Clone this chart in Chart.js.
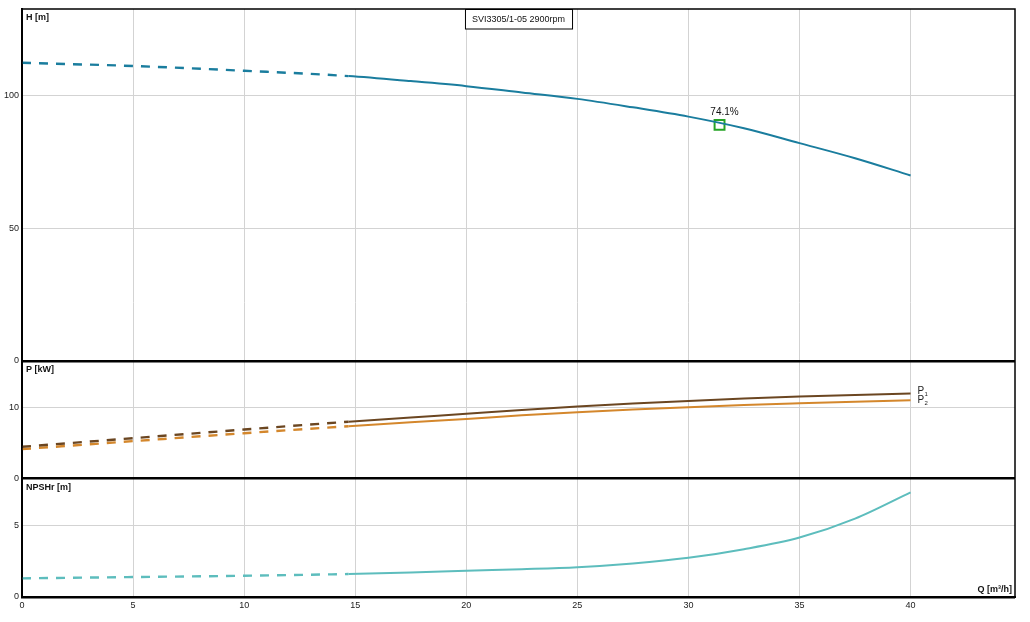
<!DOCTYPE html>
<html><head><meta charset="utf-8">
<script src="https://cdn.jsdelivr.net/npm/chart.js@4.4.1/dist/chart.umd.min.js"></script>
<style>html,body{margin:0;padding:0;background:#fff;}#wrap{width:1030px;height:622px;position:relative;}</style>
</head><body><div id="wrap"><canvas id="c"></canvas></div>
<script>
// ---- data ----
const flow   = [0, 5, 10, 14.7, 17.5, 20, 22.5, 25, 27.5, 30, 32.5, 35, 37.5, 40];
const head   = [112.4, 111.2, 109.4, 107.4, 105.5, 103.6, 101.2, 98.8, 95.6, 92.1, 87.7, 82.1, 76.4, 69.9];
const powerP1 = [4.46, 5.68, 6.9, 8.0, 8.6, 9.11, 9.65, 10.14, 10.57, 10.94, 11.27, 11.55, 11.78, 11.97];
const powerP2 = [4.13, 5.26, 6.38, 7.37, 7.92, 8.4, 8.9, 9.34, 9.72, 10.05, 10.35, 10.6, 10.83, 11.03];
const npshr  = [1.3, 1.39, 1.48, 1.6, 1.7, 1.83, 1.94, 2.08, 2.34, 2.73, 3.33, 4.14, 5.46, 7.29];
const dashEnd = 14.7;
const bepFlow = [31.4];
const bepHead = [89.0];
const bepLabel = '74.1%';
const chartTitle = 'SVI3305/1-05 2900rpm';
const axisLabels = { yH: 'H [m]', yP: 'P [kW]', yN: 'NPSHr [m]' };
const xLabel = 'Q [m³/h]';
const powerNames = ['P', 'P'];
const powerSubs = ['1', '2'];

const FONT = "'Liberation Sans', Arial, sans-serif";
const toPts = (xs, ys) => xs.map((x, i) => ({ x, y: ys[i] }));
const dashSeg = {
  borderDash: ctx => (ctx.p1.parsed.x <= dashEnd + 1e-6 ? [9, 8] : undefined),
  borderWidth: ctx => (ctx.p1.parsed.x <= dashEnd + 1e-6 ? 2.4 : 2)
};

function lineDs(label, ys, color, axis) {
  return {
    type: 'line', label, data: toPts(flow, ys), yAxisID: axis,
    borderColor: color, borderWidth: 2, pointRadius: 0, fill: false,
    cubicInterpolationMode: 'monotone', segment: dashSeg
  };
}

const gridCol = c => (c.tick && c.tick.value === 0 ? '#000' : '#d3d3d3');
const gridW = c => (c.tick && c.tick.value === 0 ? 2.5 : 1);
const tickFont = { family: FONT, size: 9 };

function yScale(weight, max, step) {
  return {
    type: 'linear', position: 'left', stack: 'panels', stackWeight: weight,
    min: 0, max: max,
    ticks: { stepSize: step, includeBounds: false, font: tickFont, color: '#222', padding: 3 },
    grid: { color: gridCol, lineWidth: gridW, drawTicks: false },
    border: { display: true, color: '#000', width: 2 },
    afterFit: s => { s.width = 22; }
  };
}

const decor = {
  id: 'decor',
  afterDraw(chart) {
    const { ctx, chartArea: a } = chart;
    ctx.save();
    ctx.strokeStyle = '#000'; ctx.lineWidth = 1.5;
    ctx.strokeRect(a.left, a.top, a.right - a.left, a.bottom - a.top);
    ctx.fillStyle = '#111';
    ctx.font = 'bold 9px ' + FONT;
    ctx.textAlign = 'left'; ctx.textBaseline = 'middle';
    for (const id of ['yH', 'yP', 'yN']) {
      const s = chart.scales[id];
      ctx.fillText(axisLabels[id], a.left + 4, s.top + 9);
    }
    ctx.textAlign = 'right';
    ctx.fillText(xLabel, a.right - 3, a.bottom - 7);
    ctx.font = '9px ' + FONT;
    const cx = (a.left + a.right) / 2;
    const tw = ctx.measureText(chartTitle).width + 14;
    ctx.fillStyle = '#fff';
    ctx.fillRect(cx - tw / 2, a.top, tw, 20);
    ctx.strokeStyle = '#000'; ctx.lineWidth = 1;
    ctx.strokeRect(cx - tw / 2 + 0.5, a.top + 0.5, tw, 19.5);
    ctx.fillStyle = '#111'; ctx.textAlign = 'center';
    ctx.fillText(chartTitle, cx, a.top + 10.5);
    const bp = chart.getDatasetMeta(4).data[0];
    if (bp) {
      ctx.font = '10px ' + FONT;
      ctx.fillText(bepLabel, bp.x + 5, bp.y - 13);
    }
    [1, 2].forEach((di, k) => {
      const pts = chart.getDatasetMeta(di).data;
      const p = pts[pts.length - 1];
      const yy = p.y + (k === 0 ? -2 : 0);
      ctx.textAlign = 'left';
      ctx.font = '10px ' + FONT;
      ctx.fillStyle = '#222';
      ctx.fillText(powerNames[k], p.x + 7, yy);
      ctx.font = '6px ' + FONT;
      ctx.fillText(powerSubs[k], p.x + 14, yy + 3);
    });
    ctx.restore();
  }
};

new Chart(document.getElementById('c'), {
  data: {
    datasets: [
      lineDs('H', head, '#1a7d9e', 'yH'),
      lineDs('P1', powerP1, '#6b4621', 'yP'),
      lineDs('P2', powerP2, '#d4872c', 'yP'),
      lineDs('NPSHr', npshr, '#5dbdbd', 'yN'),
      {
        type: 'scatter', label: 'BEP', data: toPts(bepFlow, bepHead), yAxisID: 'yH',
        pointStyle: 'rect', pointRadius: 7, borderColor: '#26a426', borderWidth: 2,
        backgroundColor: 'rgba(0,0,0,0)'
      }
    ]
  },
  options: {
    responsive: true, maintainAspectRatio: false, animation: false,
    layout: { padding: { left: 0, right: 15, top: 7, bottom: 0 } },
    plugins: { legend: { display: false }, tooltip: { enabled: false }, title: { display: false } },
    scales: {
      x: {
        type: 'linear', position: 'bottom', min: 0, max: 44.7,
        ticks: { stepSize: 5, includeBounds: false, font: tickFont, color: '#222', padding: 3 },
        grid: { color: gridCol, lineWidth: c => (c.tick && c.tick.value === 0 ? 2 : 1), drawTicks: false },
        border: { display: true, color: '#000', width: 2 },
        afterFit: s => { s.height = 25; }
      },
      yN: yScale(119, 8.26, 5),
      yP: yScale(118, 16.6, 10),
      yH: yScale(353, 132.7, 50)
    }
  },
  plugins: [decor]
});
</script>
</body></html>
